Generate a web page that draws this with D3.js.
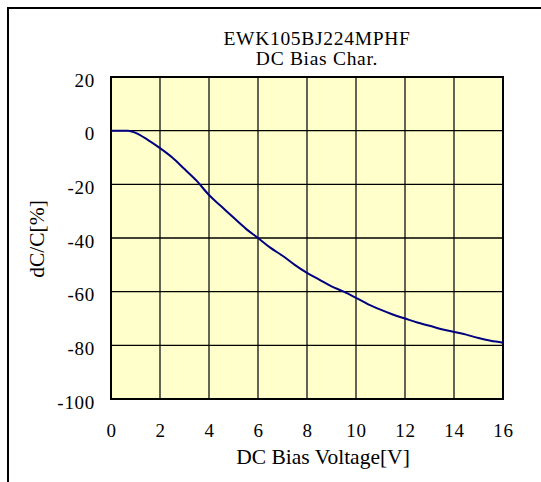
<!DOCTYPE html>
<html>
<head>
<meta charset="utf-8">
<script src="https://cdn.jsdelivr.net/npm/d3@7"></script>
<style>
html,body{margin:0;padding:0;background:#fff;}
svg{display:block;}
text{font-family:"Liberation Serif","Times New Roman",serif;fill:#000;}
</style>
</head>
<body>
<svg id="chart" width="541" height="482"></svg>
<script>
const titleLines = ["EWK105BJ224MPHF", "DC Bias Char."];
const xLabel = "DC Bias Voltage[V]";
const yLabel = "dC/C[%]";
const xTicks = [0, 2, 4, 6, 8, 10, 12, 14, 16];
const yTicks = [20, 0, -20, -40, -60, -80, -100];
const voltage = [0, 0.5, 0.7, 1.0, 1.5, 2.0, 2.5, 3.0, 3.5, 4.0, 4.5, 5.0, 5.5, 6.0, 6.5, 7.0, 7.5, 8.0, 8.5, 9.0, 9.5, 10, 10.5, 11, 11.5, 12, 12.5, 13, 13.5, 14, 14.5, 15, 15.5, 16];
const dCC = [0, 0, 0, -0.8, -3.4, -6.5, -10, -14.3, -18.7, -24, -28.2, -32.4, -36.5, -40, -43.6, -46.6, -50, -53, -55.5, -58, -60, -62.3, -64.7, -66.7, -68.5, -70, -71.5, -72.7, -74, -75, -76, -77.3, -78.3, -79];

const svg = d3.select("#chart");
const plot = {left: 111, top: 77, right: 503, bottom: 399};

const x = d3.scaleLinear().domain([0, 16]).range([plot.left, plot.right]);
const y = d3.scaleLinear().domain([-100, 20]).range([plot.bottom, plot.top]);

// outer frame (only top & left visible in the crop)
svg.append("rect").attr("x", 8).attr("y", 8).attr("width", 700).attr("height", 700)
  .attr("fill", "none").attr("stroke", "#000").attr("stroke-width", 2);

// plot background
svg.append("rect").attr("x", plot.left).attr("y", plot.top)
  .attr("width", plot.right - plot.left).attr("height", plot.bottom - plot.top)
  .attr("fill", "#ffffcc");

// grid
svg.append("g").selectAll("line").data(xTicks.slice(1, -1)).join("line")
  .attr("x1", d => x(d)).attr("x2", d => x(d))
  .attr("y1", plot.top).attr("y2", plot.bottom)
  .attr("stroke", "#222").attr("stroke-width", 1.4);
svg.append("g").selectAll("line").data(yTicks.slice(1, -1)).join("line")
  .attr("x1", plot.left).attr("x2", plot.right)
  .attr("y1", d => y(d)).attr("y2", d => y(d))
  .attr("stroke", "#000").attr("stroke-width", 1.4);

// axes (labels only)
const fmt = d => String(d);
const xAxis = svg.append("g").attr("transform", `translate(0,${plot.bottom})`)
  .call(d3.axisBottom(x).tickValues(xTicks).tickFormat(fmt).tickSize(0).tickPadding(25));
const yAxis = svg.append("g").attr("transform", `translate(${plot.left},0)`)
  .call(d3.axisLeft(y).tickValues(yTicks).tickFormat(fmt).tickSize(0).tickPadding(16));
[xAxis, yAxis].forEach(g => {
  g.select(".domain").remove();
  g.selectAll("text").attr("font-family", "Liberation Serif").attr("font-size", 19)
    .attr("letter-spacing", 0.7).attr("fill", "#000");
});
yAxis.selectAll("text").attr("dy", "0.48em");

// plot border
svg.append("rect").attr("x", plot.left).attr("y", plot.top)
  .attr("width", plot.right - plot.left).attr("height", plot.bottom - plot.top)
  .attr("fill", "none").attr("stroke", "#000").attr("stroke-width", 2);

// curve
const pts = voltage.map((v, i) => [v, dCC[i]]);
svg.append("path").datum(pts)
  .attr("d", d3.line().x(d => x(d[0])).y(d => y(d[1])).curve(d3.curveMonotoneX))
  .attr("fill", "none").attr("stroke", "#000080").attr("stroke-width", 2);

// titles
svg.append("text").attr("x", 317).attr("y", 45).attr("text-anchor", "middle")
  .attr("font-size", 19.5).attr("letter-spacing", 0.7).text(titleLines[0]);
svg.append("text").attr("x", 317).attr("y", 65).attr("text-anchor", "middle")
  .attr("font-size", 19.5).attr("letter-spacing", 0.7).text(titleLines[1]);

svg.append("text").attr("x", 323).attr("y", 464).attr("text-anchor", "middle")
  .attr("font-size", 21.5).text(xLabel);
svg.append("text").attr("transform", "translate(44,239) rotate(-90)")
  .attr("text-anchor", "middle").attr("font-size", 21.5).text(yLabel);
</script>
</body>
</html>
